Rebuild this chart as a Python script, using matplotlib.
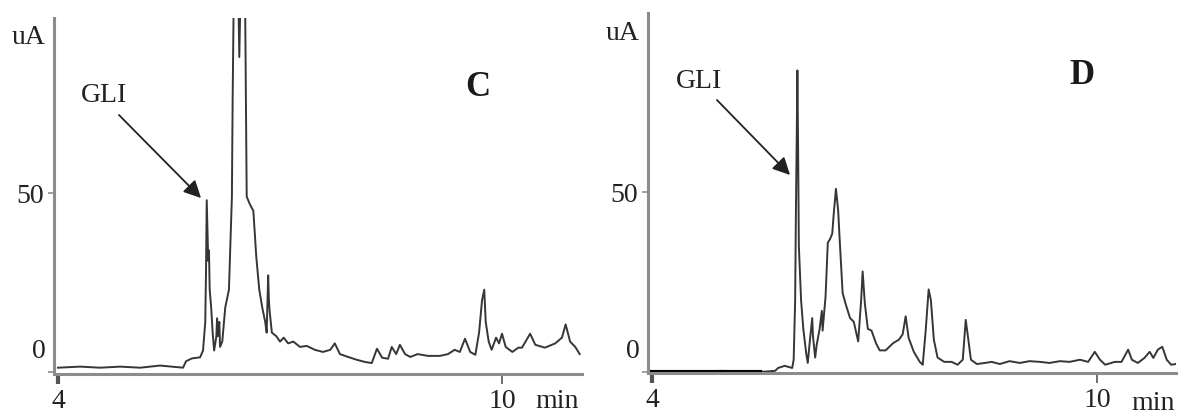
import matplotlib
matplotlib.use("Agg")
import matplotlib.pyplot as plt

# ---------------- data ----------------
t_C = [4.00, 4.30, 4.57, 4.84, 5.11, 5.38, 5.69, 5.73, 5.81, 5.92, 5.96, 5.99, 6.00, 6.01,
       6.03, 6.04, 6.05, 6.07, 6.09, 6.11, 6.14, 6.15, 6.16, 6.18, 6.19, 6.22, 6.26, 6.31,
       6.35, 6.36, 6.38, 6.43, 6.45, 6.47, 6.50, 6.53, 6.55, 6.59, 6.64, 6.68, 6.72, 6.76,
       6.80, 6.82, 6.84, 6.85, 6.86, 6.89, 6.95, 7.00, 7.05, 7.11, 7.18, 7.27, 7.36, 7.47,
       7.58, 7.68, 7.74, 7.81, 7.92, 8.04, 8.15, 8.24, 8.31, 8.38, 8.46, 8.51, 8.57, 8.62,
       8.69, 8.76, 8.86, 9.00, 9.16, 9.27, 9.36, 9.43, 9.50, 9.57, 9.64, 9.69, 9.73, 9.76,
       9.78, 9.82, 9.86, 9.92, 9.96, 10.00, 10.05, 10.14, 10.22, 10.27, 10.38, 10.45, 10.58,
       10.72, 10.81, 10.86, 10.92, 10.99, 11.05]
v_C = [1.2, 1.5, 1.2, 1.5, 1.2, 1.8, 1.2, 3.0, 3.8, 4.1, 6.0, 14, 28, 48,
       31, 34, 23, 18, 11, 6, 10, 15, 10, 14, 7, 8.5, 18, 23,
       49, 76, 115, 115, 88, 110, 105, 100, 49, 47, 45, 32, 23, 18,
       14, 11, 27, 20, 17, 11, 10, 8.5, 9.6, 8, 8.5, 7, 7.3, 6.2,
       5.6, 6.2, 8, 5, 4.2, 3.4, 2.8, 2.5, 6.5, 4, 3.7, 7, 5, 7.6,
       5, 4.2, 5, 4.5, 4.5, 5, 6.2, 5.6, 9.3, 5.6, 4.8, 11, 20, 23,
       14, 8.5, 6.2, 9.6, 8, 10.7, 7, 5.6, 6.8, 6.8, 10.7, 7.6, 6.8,
       8, 9.6, 13.3, 8.5, 7, 5]

t_D = [4.00, 4.65, 4.92, 5.46, 5.66, 5.70, 5.79, 5.89, 5.91, 5.93, 5.94, 5.95, 5.96, 5.97,
       5.98, 6.01, 6.04, 6.08, 6.10, 6.13, 6.16, 6.17, 6.20, 6.22, 6.26, 6.29, 6.30, 6.34,
       6.37, 6.40, 6.43, 6.45, 6.48, 6.51, 6.53, 6.57, 6.61, 6.67, 6.72, 6.78, 6.82, 6.84,
       6.87, 6.91, 6.96, 7.02, 7.07, 7.15, 7.25, 7.33, 7.38, 7.42, 7.46, 7.53, 7.61, 7.65,
       7.69, 7.73, 7.76, 7.80, 7.85, 7.94, 8.04, 8.12, 8.19, 8.23, 8.26, 8.30, 8.38, 8.49,
       8.58, 8.69, 8.82, 8.96, 9.09, 9.23, 9.36, 9.50, 9.63, 9.77, 9.88, 9.97, 10.04, 10.11,
       10.24, 10.33, 10.42, 10.47, 10.55, 10.64, 10.71, 10.76, 10.82, 10.88, 10.94, 11.00, 11.06]
v_D = [0, 0, 0.3, 0, 0.3, 1.1, 1.7, 1.1, 3.4, 20, 44, 63, 84, 62,
       35, 20, 12, 5, 2.5, 9, 15, 10, 4, 7.5, 12, 17, 11.5, 21,
       36, 37, 38.5, 44, 51, 45, 37, 22, 19, 15, 14, 8.5, 20, 28,
       19, 12, 11.5, 8, 6, 6, 8, 9, 10.5, 15.5, 9.5, 5.6, 2.8, 2,
       11.5, 23, 20, 9, 4, 2.8, 2.8, 2, 3.4, 14.5, 9.8, 3.4, 2.2, 2.5,
       2.8, 2.2, 3, 2.5, 3, 2.8, 2.5, 3, 2.8, 3.4, 2.8, 5.6, 3.4, 2,
       2.8, 2.8, 6.2, 3.4, 2.5, 3.9, 5.6, 3.9, 6.2, 7, 3.4, 2, 2.2]

x_ticks = [4, 10]
x_tick_labels = ["4", "10"]
y_ticks = [0, 50]
y_tick_labels = ["0", "50"]
panel_labels = ["C", "D"]
peak_label = "GLI"
y_unit = "uA"
x_unit = "min"

# ---------------- figure ----------------
W, H = 1178, 416
fig = plt.figure(figsize=(W / 100, H / 100), dpi=100)
serif = ["Liberation Serif", "DejaVu Serif"]
FS = 20
line_col = "#363636"
spine_col = "#8c8c8c"


def fx(px):
    return px / W


def fy(py):
    return 1 - py / H


def setup(ax, xlim, ylim):
    ax.set_xlim(*xlim)
    ax.set_ylim(*ylim)
    for s in ["top", "right"]:
        ax.spines[s].set_visible(False)
    for s in ["left", "bottom"]:
        ax.spines[s].set_color(spine_col)
        ax.spines[s].set_linewidth(2.2)
    ax.set_xticks(x_ticks)
    ax.set_xticklabels(x_tick_labels, family=serif, fontsize=FS, color="#222222")
    ax.set_yticks(y_ticks)
    ax.set_yticklabels(["", y_tick_labels[1]], family=serif, fontsize=FS, color="#222222")
    ax.tick_params(axis="y", length=4, width=1.2, color=spine_col, pad=3)
    ax.tick_params(axis="x", length=7, width=1.2, color="#555555", pad=4)
    ax.xaxis.get_major_ticks()[0].tick1line.set_color("black")
    ax.xaxis.get_major_ticks()[0].tick1line.set_markeredgewidth(3)


axC = fig.add_axes([fx(54), 1 - 374 / H, fx(582) - fx(54), (374 - 18) / H])
axC.plot(t_C, v_C, color=line_col, lw=1.4, clip_on=True)
setup(axC, (3.946, 11.081), (-0.56, 98.9))

axD = fig.add_axes([fx(648), 1 - 373 / H, fx(1176) - fx(648), (373 - 13) / H])
axD.plot(t_D, v_D, color=line_col, lw=1.4, clip_on=True)
axD.plot([t_D[0], t_D[3]], [v_D[0], v_D[3]], color="black", lw=3, clip_on=False)
setup(axD, (3.946, 11.065), (-0.3, 100))

# zero labels (sit slightly above the zero tick)
fig.text(fx(39), fy(351), y_tick_labels[0], family=serif, fontsize=FS, color="#222222",
         ha="center", va="center")
fig.text(fx(633), fy(351), y_tick_labels[0], family=serif, fontsize=FS, color="#222222",
         ha="center", va="center")

# units
for (ux, uy) in [(29, 37), (623, 33)]:
    fig.text(fx(ux), fy(uy), y_unit, family=serif, fontsize=FS, color="#222222",
             ha="center", va="center")
for (mx, my) in [(557, 402), (1153, 403)]:
    fig.text(fx(mx), fy(my), x_unit, family=serif, fontsize=FS, color="#222222",
             ha="center", va="center")

# panel letters
fig.text(fx(478), fy(88), panel_labels[0], family=serif, fontsize=25, fontweight="bold",
         color="#1a1a1a", ha="center", va="center")
fig.text(fx(1082), fy(75), panel_labels[1], family=serif, fontsize=25, fontweight="bold",
         color="#1a1a1a", ha="center", va="center")

# GLI labels + arrows
for (gx, gy), (sx, sy), (ex, ey) in [((104, 96), (117, 113), (203, 200)),
                                     ((699, 81), (715, 98), (792, 177))]:
    fig.text(fx(gx), fy(gy), peak_label, family=serif, fontsize=FS, color="#222222",
             ha="center", va="center")
    fig.add_artist(matplotlib.patches.FancyArrowPatch(
        (fx(sx), fy(sy)), (fx(ex), fy(ey)), transform=fig.transFigure,
        arrowstyle="-|>", mutation_scale=26, color="#222222", lw=1.3))

fig.savefig("out.png", dpi=100)
